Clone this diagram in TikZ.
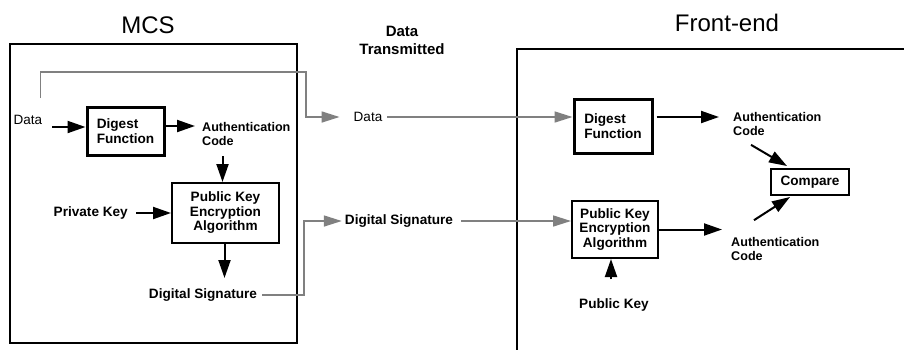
\documentclass[tikz,border=0pt]{standalone}
\usepackage{fontspec}
\setmainfont{Liberation Sans}
\usetikzlibrary{arrows.meta,calc}
\begin{document}
\begin{tikzpicture}[x=1pt,y=-1pt,
 lbl/.style={font=\fontsize{13.6}{14.5}\selectfont\bfseries, inner sep=0pt, align=left},
 aclbl/.style={font=\fontsize{12.6}{14}\selectfont\bfseries, inner sep=0pt, align=left},
 plainlbl/.style={font=\fontsize{13.5}{15}\selectfont, inner sep=0pt},
 titlelbl/.style={font=\fontsize{24}{28}\selectfont, inner sep=0pt},
 thickbox/.style={draw, line width=3pt, lbl, align=left},
 thinbox/.style={draw, line width=2pt, lbl, align=center},
 arr/.style={line width=2pt, -{Triangle[length=18pt,width=12pt]}},
 garr/.style={gray, line width=1.6pt, -{Triangle[length=18pt,width=11pt]}},
 frame/.style={line width=2pt}]
\useasboundingbox[fill=white] (0,0) rectangle (904,349);

% titles
\node[titlelbl] (tmcs) at (148,25) {MCS};
\node[titlelbl] (tfe) at (727,23) {Front-end};
\node[font=\fontsize{15}{18}\selectfont\bfseries, inner sep=0pt, align=center] (tdt) at (402,40) {Data\\Transmitted};

% frames
\node[draw, frame, minimum width=287pt, minimum height=299pt, inner sep=0pt] (mcs) at (153.5,193.5) {};
\draw[frame] (517,352) -- (517,49) -- (908,49);

% MCS side
\node[plainlbl] (dataL) at (28,120) {Data};
\node[thickbox, minimum width=77pt, minimum height=48pt] (digL) at (125.5,131) {Digest\\Function};
\node[aclbl, anchor=west] (acL) at (202,134) {Authentication\\Code};
\node[thinbox, minimum width=107pt, minimum height=60pt] (pkeL) at (225.5,213) {Public Key\\Encryption\\Algorithm};
\node[lbl, anchor=east] (pkL) at (128,213) {Private Key};
\node[lbl] (dsL) at (203,295) {Digital Signature};

\draw[arr] ($(dataL.east |- digL.west)+(10,-4)$) -- ($(digL.west)+(0,-4)$);
\draw[arr] ($(digL.east)+(0,-5)$) -- ($(acL.west)+(-7,-8)$);
\draw[arr] ($(pkeL.north)+(-3,-26)$) -- ($(pkeL.north)+(-3,0)$);
\draw[arr] ($(pkL.east)+(8,0)$) -- (pkeL.west);
\draw[arr] ($(pkeL.south)+(-1,0)$) -- ($(pkeL.south)+(-1,34)$);

% transmitted
\node[plainlbl] (dataM) at (368,117) {Data};
\node[lbl] (dsM) at (399,221) {Digital Signature};

\draw[garr] ($(dataL.north east)+(-2,-17)$) |- (306,72) |- ($(dataM.west)+(-14,0)$);
\draw[garr] ($(dsL.east)+(5,0)$) -| (304,221) -- ($(dsM.west)+(-3,0)$);

% front-end side
\node[thickbox, minimum width=78pt, minimum height=54pt] (digF) at (613,126) {Digest\\Function};
\node[thinbox, minimum width=86pt, minimum height=57pt] (pkeF) at (615,229.5) {Public Key\\Encryption\\Algorithm};
\node[aclbl, anchor=west] (acF1) at (733,124) {Authentication\\Code};
\node[aclbl, anchor=west] (acF2) at (731,249) {Authentication\\Code};
\node[thinbox, minimum width=78pt, minimum height=26pt] (cmp) at (810,182) {Compare};
\node[lbl] (pkF) at (614,305) {Public Key};

\draw[garr] ($(dataM.east)+(5,0)$) -- (digF.west |- dataM.east);
\draw[garr] ($(dsM.east)+(8,0)$) -- (pkeF.west |- dsM.east);
\draw[arr] ($(digF.east |- dataM.east)+(3,0)$) -- ($(acF1.west |- dataM.east)+(-14,0)$);
\draw[arr] (pkeF.east) -- ($(pkeF.east -| acF2.west)+(-9,0)$);
\draw[arr] ($(pkF.north)+(-3,-19)$) -- ($(pkF.north |- pkeF.south)+(-3,0)$);
\draw[arr] ($(acF1.south west)+(18,9)$) -- ($(cmp.north)+(-23,-2)$);
\draw[arr] ($(acF2.north west)+(23,-17)$) -- ($(cmp.south)+(-20,1)$);
\end{tikzpicture}
\end{document}
